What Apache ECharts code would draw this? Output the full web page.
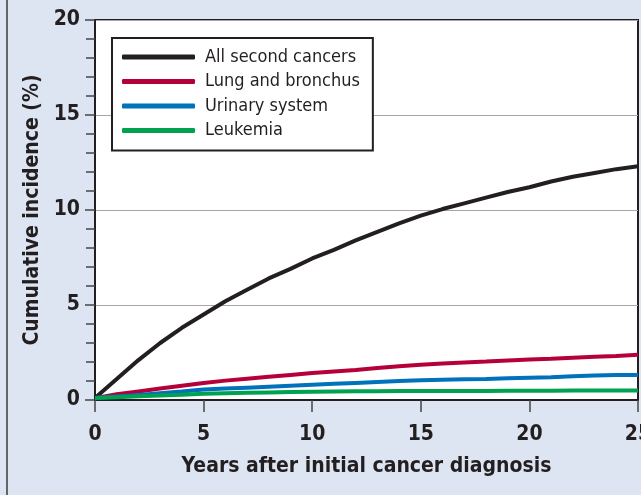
<!DOCTYPE html>
<html>
<head>
<meta charset="utf-8">
<script src="https://cdn.jsdelivr.net/npm/echarts@6/dist/echarts.min.js"></script>
<style>
  html, body { margin: 0; padding: 0; background: #dee5f2; }
  #chart { width: 641px; height: 495px; }
</style>
</head>
<body>
<div id="chart"></div>
<script>
// years after diagnosis
const years = [0, 1, 2, 3, 4, 5, 6, 7, 8, 9, 10, 11, 12, 13, 14, 15, 16, 17, 18, 19, 20, 21, 22, 23, 24, 25];

// cumulative incidence (%)
const allSecond = [0.1, 1.1, 2.1, 3.0, 3.8, 4.5, 5.2, 5.8, 6.4, 6.9, 7.45, 7.9, 8.4, 8.85, 9.3, 9.7, 10.05, 10.35, 10.65, 10.95, 11.2, 11.5, 11.75, 11.95, 12.15, 12.3];
const lung = [0.1, 0.3, 0.45, 0.6, 0.75, 0.9, 1.02, 1.12, 1.22, 1.32, 1.42, 1.5, 1.58, 1.68, 1.78, 1.86, 1.92, 1.97, 2.02, 2.08, 2.13, 2.17, 2.22, 2.27, 2.32, 2.38];
const urinary = [0.1, 0.18, 0.26, 0.36, 0.45, 0.55, 0.6, 0.65, 0.7, 0.75, 0.8, 0.85, 0.9, 0.95, 1.0, 1.04, 1.07, 1.09, 1.11, 1.14, 1.17, 1.2, 1.25, 1.29, 1.32, 1.32];
const leukemia = [0.1, 0.15, 0.2, 0.24, 0.28, 0.33, 0.36, 0.38, 0.4, 0.42, 0.44, 0.45, 0.46, 0.46, 0.47, 0.47, 0.48, 0.48, 0.48, 0.49, 0.49, 0.49, 0.5, 0.5, 0.5, 0.5];

const seriesNames = ['All second cancers', 'Lung and bronchus', 'Urinary system', 'Leukemia'];
const seriesColors = ['#231f20', '#b5003a', '#0072bc', '#00a150'];
const seriesValues = [allSecond, lung, urinary, leukemia];

const narrow = '"DejaVu Sans Condensed", "Liberation Sans Narrow", "Liberation Sans", sans-serif';
const ink = '#231f20';

const chart = echarts.init(document.getElementById('chart'));

chart.setOption({
    backgroundColor: '#dee5f2',
    animation: false,
    graphic: [{
        type: 'line',
        shape: { x1: 7, y1: 0, x2: 7, y2: 495 },
        style: { stroke: '#3a3a3a', lineWidth: 1.5 }
    }],
    grid: {
        left: 95, right: 3, top: 20, bottom: 95,
        outerBoundsMode: 'none',
        show: true,
        backgroundColor: '#ffffff',
        borderColor: ink,
        borderWidth: 2
    },
    legend: {
        orient: 'vertical',
        left: 112, top: 38,
        padding: [9, 13, 10, 10],
        backgroundColor: '#ffffff',
        borderColor: ink,
        borderWidth: 2,
        borderRadius: 0,
        icon: 'roundRect',
        itemWidth: 73,
        itemHeight: 5,
        itemGap: 4.5,
        textStyle: {
            fontFamily: narrow,
            fontSize: 18,
            color: ink,
            lineHeight: 20,
            padding: [0, 0, 0, 5]
        },
        data: seriesNames
    },
    xAxis: {
        type: 'value',
        min: 0, max: 25, interval: 5,
        name: 'Years after initial cancer diagnosis',
        nameLocation: 'middle',
        nameGap: 56,
        nameTextStyle: { fontFamily: narrow, fontSize: 21, fontWeight: 'bold', color: ink },
        axisLine: { show: true, lineStyle: { color: ink, width: 2 } },
        axisTick: { show: true, length: 12, lineStyle: { color: '#444', width: 1.5 } },
        axisLabel: { fontFamily: narrow, fontSize: 21, fontWeight: 'bold', color: ink, margin: 24, showMaxLabel: true },
        splitLine: { show: false }
    },
    yAxis: {
        type: 'value',
        min: 0, max: 20, interval: 5,
        name: 'Cumulative incidence (%)',
        nameLocation: 'middle',
        nameGap: 51,
        nameTextStyle: { fontFamily: narrow, fontSize: 21, fontWeight: 'bold', color: ink },
        axisLine: { show: true, lineStyle: { color: ink, width: 2 } },
        axisTick: { show: true, length: 10, lineStyle: { color: '#444', width: 1.5 } },
        minorTick: { show: true, splitNumber: 5, length: 9, lineStyle: { color: '#444', width: 1.5 } },
        axisLabel: { fontFamily: narrow, fontSize: 21, fontWeight: 'bold', color: ink, margin: 15 },
        splitLine: { show: true, lineStyle: { color: '#a6a6a6', width: 1.2 } }
    },
    series: seriesNames.map((name, i) => ({
        name: name,
        type: 'line',
        showSymbol: false,
        symbol: 'none',
        color: seriesColors[i],
        lineStyle: { width: 4, color: seriesColors[i] },
        data: years.map((x, j) => [x, seriesValues[i][j]])
    }))
});
</script>
</body>
</html>
